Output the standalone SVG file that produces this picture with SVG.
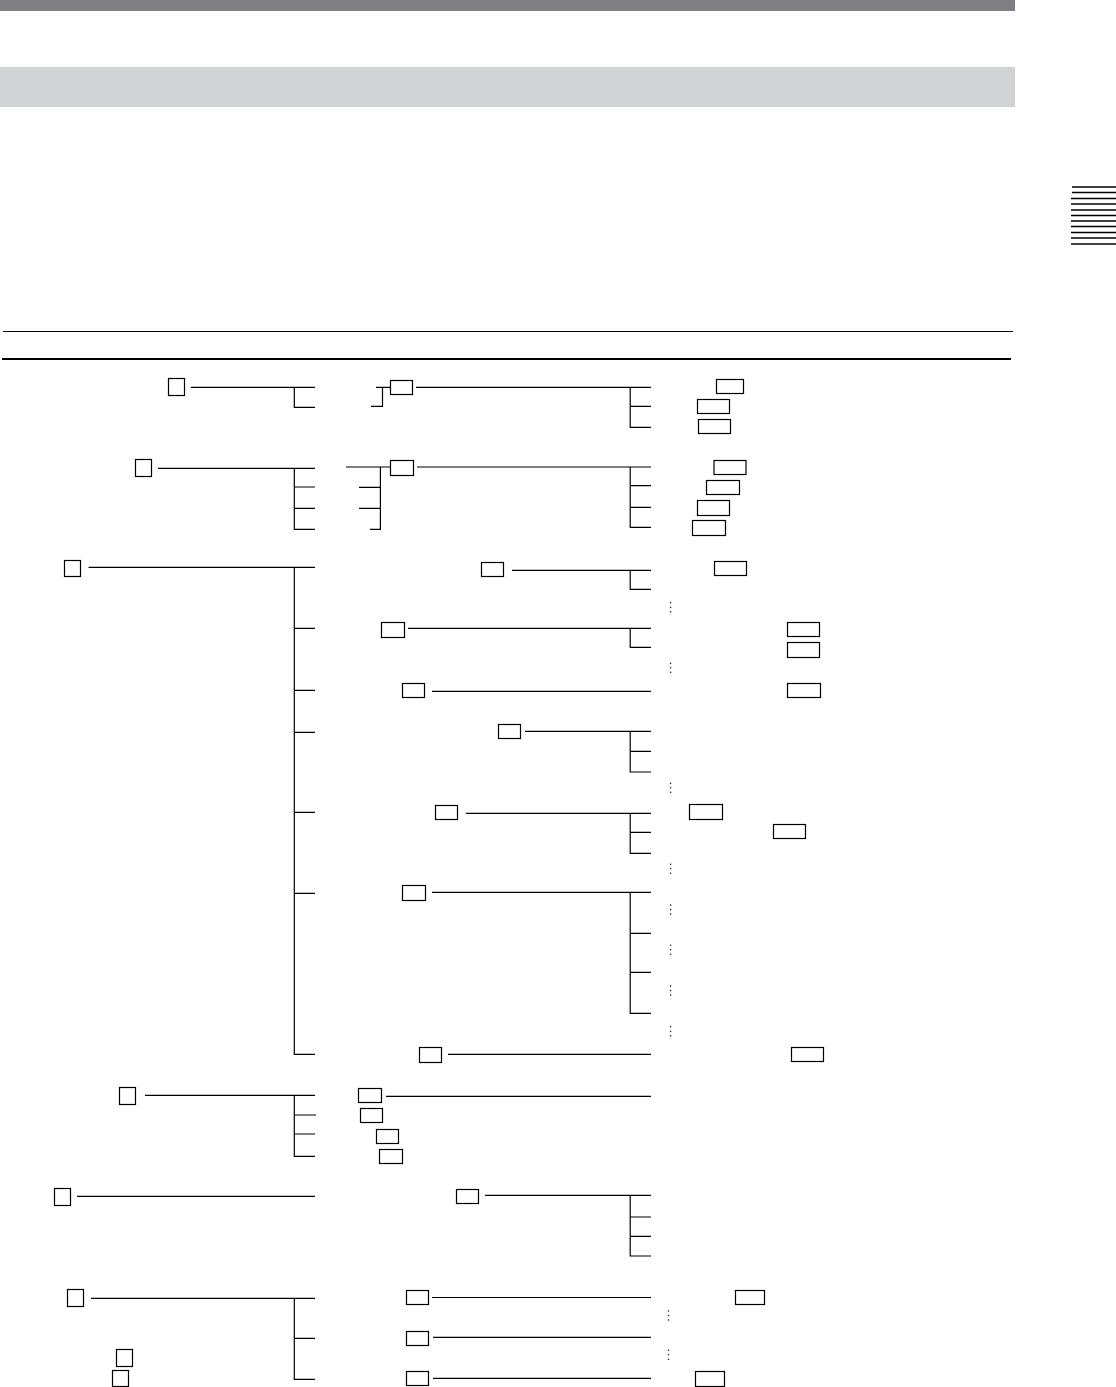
<svg xmlns="http://www.w3.org/2000/svg" width="1116" height="1387" viewBox="0 0 1116 1387">
<style>
.b{fill:#fff;stroke:#000;stroke-width:1.2}
.c{fill:none;stroke:#000;stroke-width:1.2}
.tab{stroke:#000;stroke-width:1.6}
.d{fill:#222}
</style>
<defs>
<g id="dots"><circle class="d" cx="0" cy="0.8" r="0.8"/><circle class="d" cx="0" cy="5.3" r="0.8"/><circle class="d" cx="0" cy="9.8" r="0.8"/></g>
</defs>
<rect width="1116" height="1387" fill="#fff"/>
<g id="header">
<rect x="0" y="0" width="1015" height="11" fill="#808084"/>
<rect x="0" y="67" width="1015" height="40" fill="#d1d2d4"/>
<g id="tabmarks">
<line class="tab" x1="1072" y1="187" x2="1116" y2="187"/>
<line class="tab" x1="1072" y1="192.5" x2="1116" y2="192.5"/>
<line class="tab" x1="1071" y1="198.5" x2="1116" y2="198.5"/>
<line class="tab" x1="1071" y1="204" x2="1116" y2="204"/>
<line class="tab" x1="1071" y1="210" x2="1116" y2="210"/>
<line class="tab" x1="1071" y1="215.5" x2="1116" y2="215.5"/>
<line class="tab" x1="1071" y1="221" x2="1116" y2="221"/>
<line class="tab" x1="1071" y1="226.5" x2="1116" y2="226.5"/>
<line class="tab" x1="1071" y1="232.5" x2="1116" y2="232.5"/>
<line class="tab" x1="1071" y1="238" x2="1116" y2="238"/>
<line class="tab" x1="1071" y1="244" x2="1116" y2="244"/>
</g>
<line x1="3" y1="331.5" x2="1013" y2="331.5" stroke="#000" stroke-width="1"/>
<line x1="2" y1="359" x2="1011" y2="359" stroke="#000" stroke-width="2"/>
</g>
<g id="connectors">
<path class="c" d="M191 387.3H315M294.3 387.3V407.3H315M376 387.3H390.5M382.5 387.3V406.3H371M416 387.3H651M630.2 387.3V427.3H651M630.2 406.3H651"/>
<path class="c" d="M158 468.3H315M294.3 468.3V529.3H315M294.3 487H315M294.3 508.3H315M346 467H390.5M380.4 467V529.3H370M359 487.3H380.4M359 508.3H380.4M417 467H651M630.2 467V527.3H651M630.2 485.7H651M630.2 507.3H651"/>
<path class="c" d="M88.6 567.3H315M294.3 567.3V1054.3H315M294.3 628.3H315M294.3 690.3H315M294.3 732.3H315M294.3 812.3H315M294.3 893.3H315"/>
<path class="c" d="M512 570.3H651M630.2 570.3V589.3H651M408 628.3H651M630.2 628.3V647.3H651M432 691.3H651M525 731.3H651M630.2 731.3V772H651M630.2 751.3H651M466 813.3H651M630.2 813.3V853.3H651M630.2 832.3H651M432 892.3H651M630.2 892.3V1013.3H651M630.2 933.3H651M630.2 972.3H651M448 1054.3H651"/>
<path class="c" d="M145 1095.3H315M294.3 1095.3V1156.3H315M294.3 1115H316M294.3 1134H315M386 1096.3H651"/>
<path class="c" d="M77 1196.3H315M485 1195.3H651M630.2 1195.3V1256H651M630.2 1217H651M630.2 1236.3H651"/>
<path class="c" d="M91 1298.3H315M294.3 1298.3V1379.3H315M294.3 1338.3H315M432 1297.5H651M433 1337.3H651M433 1378.3H651"/>
<g id="ellipses">
<use href="#dots" x="670.6" y="602"/>
<use href="#dots" x="670.6" y="662.5"/>
<use href="#dots" x="670.6" y="782.5"/>
<use href="#dots" x="670.6" y="863.5"/>
<use href="#dots" x="670.6" y="904.3"/>
<use href="#dots" x="670.6" y="944.5"/>
<use href="#dots" x="670.6" y="985.3"/>
<use href="#dots" x="670.6" y="1026"/>
<use href="#dots" x="668.5" y="1310.2"/>
<use href="#dots" x="668.5" y="1349.5"/>
</g>
</g>
<g id="n1"><rect class="b" x="168.5" y="378.5" width="16" height="17"/></g>
<g id="n1a"><rect class="b" x="390.5" y="380.5" width="22" height="14"/></g>
<g id="n1a1"><rect class="b" x="716.5" y="379.5" width="27" height="14"/></g>
<g id="n1a2"><rect class="b" x="697.5" y="399.5" width="32" height="14"/></g>
<g id="n1a3"><rect class="b" x="698.5" y="419.5" width="32" height="14"/></g>
<g id="n2"><rect class="b" x="135.5" y="459.5" width="16" height="17"/></g>
<g id="n2a"><rect class="b" x="390.5" y="460.5" width="23" height="15"/></g>
<g id="n2a1"><rect class="b" x="714" y="460.5" width="32" height="14"/></g>
<g id="n2a2"><rect class="b" x="706.5" y="480.5" width="33" height="14"/></g>
<g id="n2a3"><rect class="b" x="697.5" y="500.5" width="32" height="15"/></g>
<g id="n2a4"><rect class="b" x="692.5" y="520.5" width="33" height="15"/></g>
<g id="n3"><rect class="b" x="64.5" y="560.5" width="16" height="16"/></g>
<g id="n3a"><rect class="b" x="481.5" y="562.5" width="22" height="14"/></g>
<g id="n3a1"><rect class="b" x="714.5" y="561.5" width="32" height="14"/></g>
<g id="n3b"><rect class="b" x="381.5" y="622.5" width="23" height="15"/></g>
<g id="n3b1"><rect class="b" x="787.5" y="622.5" width="32" height="14"/></g>
<g id="n3b2"><rect class="b" x="787.5" y="642.5" width="32" height="15"/></g>
<g id="n3c"><rect class="b" x="402.5" y="683.5" width="22" height="14"/></g>
<g id="n3c1"><rect class="b" x="787.5" y="683.5" width="33" height="14"/></g>
<g id="n3d"><rect class="b" x="498.5" y="724.5" width="22" height="14"/></g>
<g id="n3e"><rect class="b" x="435.5" y="805.5" width="22" height="14"/></g>
<g id="n3e1"><rect class="b" x="689.5" y="804.5" width="33" height="15"/></g>
<g id="n3e2"><rect class="b" x="773.5" y="824.5" width="32" height="14"/></g>
<g id="n3f"><rect class="b" x="402.5" y="885.5" width="23" height="15"/></g>
<g id="n3g"><rect class="b" x="419.5" y="1047.5" width="22" height="15"/></g>
<g id="n3g1"><rect class="b" x="791.5" y="1047.5" width="32" height="14"/></g>
<g id="n4"><rect class="b" x="119.5" y="1087.5" width="16" height="17"/></g>
<g id="n4a"><rect class="b" x="358.5" y="1088.5" width="23" height="14"/></g>
<g id="n4b"><rect class="b" x="360.5" y="1108.5" width="22" height="14"/></g>
<g id="n4c"><rect class="b" x="376.5" y="1129.5" width="22" height="14"/></g>
<g id="n4d"><rect class="b" x="379.5" y="1149.5" width="23" height="14"/></g>
<g id="n5"><rect class="b" x="54.5" y="1188.5" width="16" height="17"/></g>
<g id="n5a"><rect class="b" x="456.5" y="1189.5" width="22" height="14"/></g>
<g id="n6"><rect class="b" x="67.5" y="1289.5" width="16" height="17"/></g>
<g id="n6x"><rect class="b" x="116.5" y="1349.5" width="16" height="17"/></g>
<g id="n6y"><rect class="b" x="112.5" y="1370.5" width="16" height="16"/></g>
<g id="n6a"><rect class="b" x="406.5" y="1290.5" width="22" height="14"/></g>
<g id="n6a1"><rect class="b" x="735.5" y="1290.5" width="29" height="14"/></g>
<g id="n6b"><rect class="b" x="406.5" y="1331.5" width="22" height="14"/></g>
<g id="n6c"><rect class="b" x="406.5" y="1371.5" width="22" height="14"/></g>
<g id="n6c1"><rect class="b" x="695.5" y="1371.5" width="29" height="15"/></g>
</svg>
